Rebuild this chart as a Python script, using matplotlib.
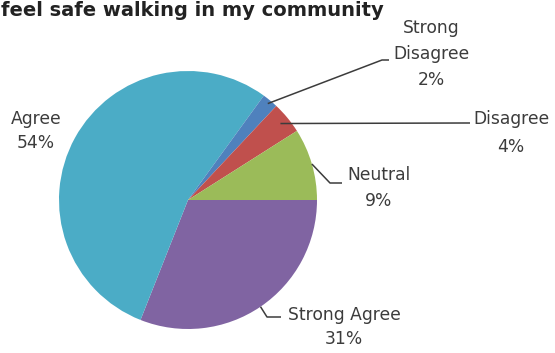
import numpy as np
import matplotlib
matplotlib.use("Agg")
import matplotlib.pyplot as plt

# Survey responses, in drawing order (clockwise from 3 o'clock)
categories = ["Strong Agree", "Agree", "Strong\nDisagree", "Disagree", "Neutral"]
values = [31, 54, 2, 4, 9]
colors = ["#8064A2", "#4BACC6", "#4F81BD", "#C0504D", "#9BBB59"]
title = "feel safe walking in my community"

W, H = 555, 353
fig = plt.figure(figsize=(W / 100, H / 100), dpi=100)
ax = fig.add_axes([0, 0, 1, 1])

cx, cy, r = 188, H - 200, 129
wedges, _ = ax.pie(values, colors=colors, startangle=0, counterclock=False,
                   center=(cx, cy), radius=r, frame=True,
                   wedgeprops=dict(linewidth=0))
ax.set_xlim(0, W)
ax.set_ylim(0, H)
ax.set_aspect("equal")
ax.axis("off")

font = dict(family=["DejaVu Sans"], fontsize=12.3, color="#3c3c3c",
            ha="center", va="center")

# label block centres (pixels from top-left), line spacing,
# leader start radius and leader bend points
label_pos = [(344, 327), (36, 131), (431, 54), (511, 133), (379, 188)]
spacing = [1.5, 1.5, 1.6, 1.65, 1.5]
lead_rad = [1.0, None, 0.97, 0.93, 1.0]
bends = [
    [(267, 317), (281, 317)],     # Strong Agree
    None,                          # Agree: no leader
    [(382, 60), (389, 60)],        # Strong Disagree
    [(465, 123), (470, 123)],      # Disagree
    [(330, 183), (342, 183)],      # Neutral
]

for w, name, v, (lx, ly), ls, rad, b in zip(wedges, categories, values,
                                            label_pos, spacing, lead_rad, bends):
    ax.text(lx, H - ly, f"{name}\n{v}%", linespacing=ls, **font)
    if b is None:
        continue
    ang = np.deg2rad(0.5 * (w.theta1 + w.theta2))
    x0, y0 = cx + r * rad * np.cos(ang), cy + r * rad * np.sin(ang)
    xs = [x0] + [p[0] for p in b]
    ys = [y0] + [H - p[1] for p in b]
    ax.plot(xs, ys, color="#3c3c3c", lw=1.1, solid_capstyle="butt")

fig.text(1 / W, 1 - 16 / H, title, fontsize=14, fontweight="bold",
         family=["DejaVu Sans"], color="#222222",
         ha="left", va="baseline")

fig.savefig("out.png", dpi=100, facecolor="white")
